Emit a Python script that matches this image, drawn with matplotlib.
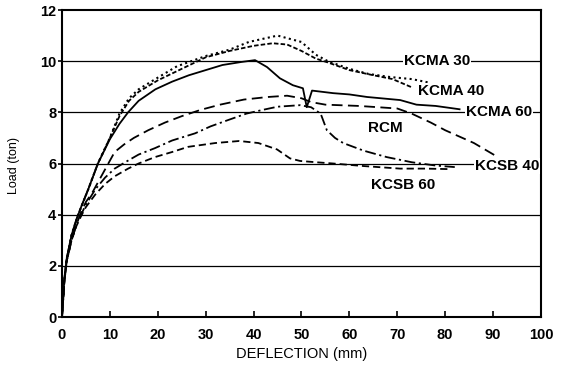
import matplotlib.pyplot as plt

# load-deflection data
kcma30_x = [0, 0.5, 1, 2, 3, 4, 5.5, 7.5, 10, 12, 14, 16, 19.5, 24, 30, 35, 39, 45, 50, 53, 55.5, 60, 64, 68.5, 73, 77]
kcma30_y = [0, 1.5, 2.3, 3.2, 3.8, 4.3, 5.0, 6.0, 7.0, 7.95, 8.55, 8.9, 9.3, 9.8, 10.2, 10.45, 10.75, 11.0, 10.75, 10.25, 10.0, 9.7, 9.5, 9.38, 9.3, 9.15]

kcma40_x = [0, 0.5, 1, 2, 3, 4, 5.5, 7.5, 10, 12, 14, 16, 20, 25, 30, 35, 40, 44, 47, 50, 53, 55.5, 60, 65, 69, 73]
kcma40_y = [0, 1.5, 2.3, 3.2, 3.8, 4.3, 5.0, 6.0, 7.0, 7.85, 8.45, 8.8, 9.25, 9.7, 10.15, 10.4, 10.6, 10.7, 10.65, 10.4, 10.1, 9.95, 9.65, 9.45, 9.3, 8.98]

kcma60_x = [0, 0.5, 1, 2, 3, 4, 5.5, 7.5, 10, 12, 13.8, 16, 19.5, 23, 26.5, 30, 33.5, 37.5, 40.3, 42.8, 45.5, 48.2, 50.3, 51.1, 52.2, 56.6, 60, 63.7, 70.6, 74, 78, 83]
kcma60_y = [0, 1.5, 2.3, 3.2, 3.8, 4.3, 5.0, 6.0, 6.95, 7.55, 8.0, 8.45, 8.9, 9.2, 9.45, 9.65, 9.85, 9.97, 10.04, 9.77, 9.33, 9.06, 8.94, 8.2, 8.85, 8.75, 8.7, 8.6, 8.48, 8.3, 8.25, 8.12]

rcm_x = [0, 0.5, 1, 2, 3, 4, 5, 6.3, 8.5, 11, 13, 15, 18, 21.5, 25, 29, 33, 38, 43, 47, 50, 52, 55, 62, 70, 73, 77, 80, 86, 91]
rcm_y = [0, 1.4, 2.2, 3.0, 3.6, 4.1, 4.5, 4.85, 5.6, 6.45, 6.75, 7.0, 7.3, 7.6, 7.85, 8.1, 8.3, 8.5, 8.6, 8.65, 8.55, 8.4, 8.3, 8.25, 8.15, 7.95, 7.6, 7.3, 6.8, 6.25]

kcsb40_x = [0, 0.5, 1, 2, 3, 4, 5, 7, 9, 11, 13.2, 16, 19.4, 23, 27.8, 31, 34.7, 38.5, 42, 45, 49.7, 52, 54, 55.3, 57, 58.7, 63, 67.8, 73, 78, 82]
kcsb40_y = [0, 1.4, 2.2, 3.0, 3.6, 4.0, 4.4, 5.0, 5.45, 5.8, 6.05, 6.35, 6.6, 6.9, 7.18, 7.45, 7.7, 7.95, 8.1, 8.22, 8.28, 8.2, 7.95, 7.3, 7.0, 6.8, 6.5, 6.25, 6.05, 5.92, 5.86]

kcsb60_x = [0, 0.5, 1, 2, 3, 4, 5, 7, 9, 11, 13.8, 16, 19.4, 23, 26.3, 32, 37, 41, 44.9, 47.6, 49.7, 53, 56.6, 63, 70.6, 76, 81]
kcsb60_y = [0, 1.4, 2.2, 3.0, 3.55, 3.95, 4.3, 4.8, 5.2, 5.5, 5.8, 6.0, 6.25, 6.45, 6.65, 6.8, 6.88, 6.8, 6.55, 6.2, 6.1, 6.05, 6.0, 5.9, 5.8, 5.8, 5.78]

# curve labels and where they sit
labels = ["KCMA 30", "KCMA 40", "KCMA 60", "RCM", "KCSB 40", "KCSB 60"]
label_x = [71.3, 74.3, 84.4, 63.8, 86.2, 64.6]
label_y = [10.0, 8.85, 8.0, 7.4, 5.9, 5.15]

plt.rcParams['font.family'] = ['Liberation Sans', 'DejaVu Sans']

fig = plt.figure(figsize=(5.65, 3.65), dpi=100)
ax = fig.add_axes([0.1097, 0.1315, 0.8478, 0.8411])

for yv in range(2, 12, 2):
    ax.axhline(yv, color='black', lw=0.9, zorder=1)

lw = 1.3
ax.plot(kcma30_x, kcma30_y, color='black', lw=1.5, linestyle=(0, (1, 1.6)))
ax.plot(kcma40_x, kcma40_y, color='black', lw=lw, linestyle=(0, (2.5, 1.2)))
ax.plot(kcma60_x, kcma60_y, color='black', lw=lw, linestyle='-')
ax.plot(rcm_x, rcm_y, color='black', lw=lw, linestyle=(0, (6, 3)))
ax.plot(kcsb40_x, kcsb40_y, color='black', lw=lw, linestyle=(0, (6, 2, 1.2, 2)))
ax.plot(kcsb60_x, kcsb60_y, color='black', lw=lw, linestyle=(0, (4, 2.2)))

for t, lx, ly in zip(labels, label_x, label_y):
    ax.text(lx, ly, t, fontsize=11, fontweight='bold', va='center', ha='left',
            bbox=dict(facecolor='white', edgecolor='none', pad=0.5), zorder=5)

ax.set_xlim(0, 100)
ax.set_ylim(0, 12)
ax.set_xticks(range(0, 101, 10))
ax.set_yticks(range(0, 13, 2))
for lab in ax.get_xticklabels() + ax.get_yticklabels():
    lab.set_fontweight('bold')
    lab.set_fontsize(10.5)
ax.tick_params(axis='x', direction='in', length=4, width=1.2, pad=8)
ax.tick_params(axis='y', direction='out', length=3, width=1.2, pad=1)
for sp in ax.spines.values():
    sp.set_linewidth(1.5)

ax.set_xlabel('DEFLECTION (mm)', fontsize=10.5)
ax.set_ylabel('Load (ton)', fontsize=9)
ax.yaxis.set_label_coords(-0.088, 0.495)
ax.xaxis.set_label_coords(0.5, -0.098)

fig.savefig('out.png', dpi=100)
